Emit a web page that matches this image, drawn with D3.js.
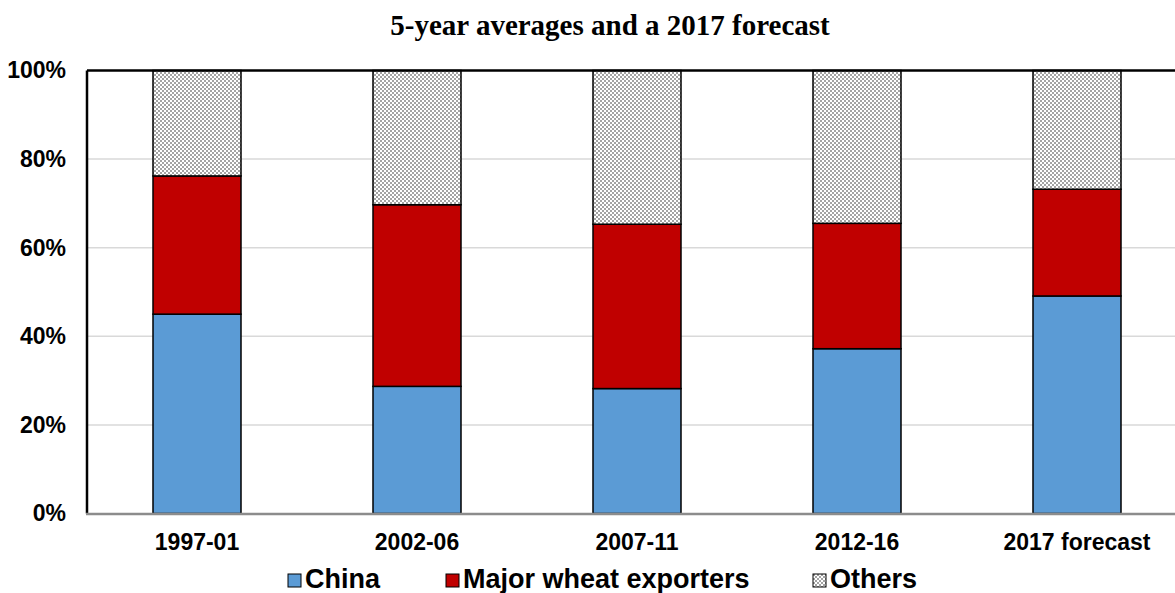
<!DOCTYPE html>
<html>
<head>
<meta charset="utf-8">
<script src="https://cdn.jsdelivr.net/npm/d3@7"></script>
<style>
  body { margin: 0; background: #fff; }
  svg { display: block; }
</style>
</head>
<body>
<svg id="chart" width="1175" height="593"></svg>
<script>
// Data (shares in %)
var periods = ["1997-01", "2002-06", "2007-11", "2012-16", "2017 forecast"];
var china = [45.0, 28.7, 28.2, 37.2, 49.1];
var exporters = [31.2, 41.0, 37.1, 28.3, 24.1];
var others = china.map((c, i) => 100 - c - exporters[i]);
var yTicks = [0, 20, 40, 60, 80, 100];
var seriesNames = ["China", "Major wheat exporters", "Others"];

var svg = d3.select("#chart");
var margin = { top: 70.5, left: 87, bottom: 513.5 };
var sans = "'Liberation Sans', Arial, sans-serif";

// pattern for "Others"
var defs = svg.append("defs");
var pat = defs.append("pattern")
  .attr("id", "checker")
  .attr("patternUnits", "userSpaceOnUse")
  .attr("width", 4).attr("height", 4);
pat.append("rect").attr("width", 4).attr("height", 4).attr("fill", "#fff");
pat.append("rect").attr("x", 0).attr("y", 0).attr("width", 2).attr("height", 2).attr("fill", "#a3a3a3");
pat.append("rect").attr("x", 2).attr("y", 2).attr("width", 2).attr("height", 2).attr("fill", "#a3a3a3");

var x = d3.scaleBand()
  .domain(periods)
  .range([margin.left, margin.left + 5 * 220])
  .paddingInner(0.6)
  .paddingOuter(0.3);

var y = d3.scaleLinear().domain([0, 100]).range([margin.bottom, margin.top]);

// Title
svg.append("text")
  .attr("x", 610).attr("y", 35)
  .attr("text-anchor", "middle")
  .style("font-family", "'Liberation Serif', 'Times New Roman', serif")
  .style("font-weight", "bold")
  .style("font-size", "29px")
  .text("5-year averages and a 2017 forecast");

// gridlines
svg.append("g").selectAll("line")
  .data(yTicks.filter(d => d > 0 && d < 100))
  .join("line")
  .attr("x1", margin.left).attr("x2", 1175)
  .attr("y1", d => y(d)).attr("y2", d => y(d))
  .attr("stroke", "#d9d9d9").attr("stroke-width", 1.5);

// stacked data
var rows = periods.map((p, i) => ({ period: p, China: china[i], "Major wheat exporters": exporters[i], Others: others[i] }));
var stack = d3.stack().keys(seriesNames)(rows);
var fills = { "China": "#5b9bd5", "Major wheat exporters": "#c00000", "Others": "url(#checker)" };

svg.append("g").selectAll("g")
  .data(stack)
  .join("g")
  .attr("fill", d => fills[d.key])
  .selectAll("rect")
  .data(d => d)
  .join("rect")
  .attr("x", d => x(d.data.period))
  .attr("width", x.bandwidth())
  .attr("y", d => y(d[1]))
  .attr("height", d => y(d[0]) - y(d[1]))
  .attr("stroke", "#000")
  .attr("stroke-width", 1.5);

// frame: top and left black, bottom gray axis
svg.append("line")
  .attr("x1", margin.left).attr("x2", 1175)
  .attr("y1", y(100)).attr("y2", y(100))
  .attr("stroke", "#000").attr("stroke-width", 2.5);
svg.append("line")
  .attr("x1", margin.left).attr("x2", margin.left)
  .attr("y1", y(100)).attr("y2", y(0))
  .attr("stroke", "#000").attr("stroke-width", 2.5);
svg.append("line")
  .attr("x1", margin.left - 1).attr("x2", 1175)
  .attr("y1", y(0) + 0.5).attr("y2", y(0) + 0.5)
  .attr("stroke", "#8c8c8c").attr("stroke-width", 2.5);

// y axis labels
var yAxis = d3.axisLeft(y).tickValues(yTicks).tickFormat(d => d + "%").tickSize(0).tickPadding(21);
var yg = svg.append("g").attr("transform", "translate(" + margin.left + ",0)").call(yAxis);
yg.select(".domain").remove();
yg.selectAll("text")
  .style("font-family", sans)
  .style("font-weight", "bold")
  .style("font-size", "23px")
  .attr("fill", "#000");

// x axis labels
var xAxis = d3.axisBottom(x).tickSize(0).tickPadding(0);
var xg = svg.append("g").attr("transform", "translate(0," + y(0) + ")").call(xAxis);
xg.select(".domain").remove();
xg.selectAll("text")
  .attr("dy", null)
  .attr("y", 36.5)
  .style("font-family", sans)
  .style("font-weight", "bold")
  .style("font-size", "23px")
  .attr("fill", "#000");

// legend
var legendX = [288, 446, 813];
var lg = svg.append("g").selectAll("g")
  .data(seriesNames)
  .join("g")
  .attr("transform", (d, i) => "translate(" + legendX[i] + ",574)");
lg.append("rect")
  .attr("width", 13).attr("height", 13)
  .attr("fill", d => fills[d])
  .attr("stroke", "#000").attr("stroke-width", 1);
lg.append("text")
  .attr("x", 17).attr("y", 13.5)
  .style("font-family", sans)
  .style("font-weight", "bold")
  .style("font-size", "27px")
  .text(d => d);
</script>
</body>
</html>
